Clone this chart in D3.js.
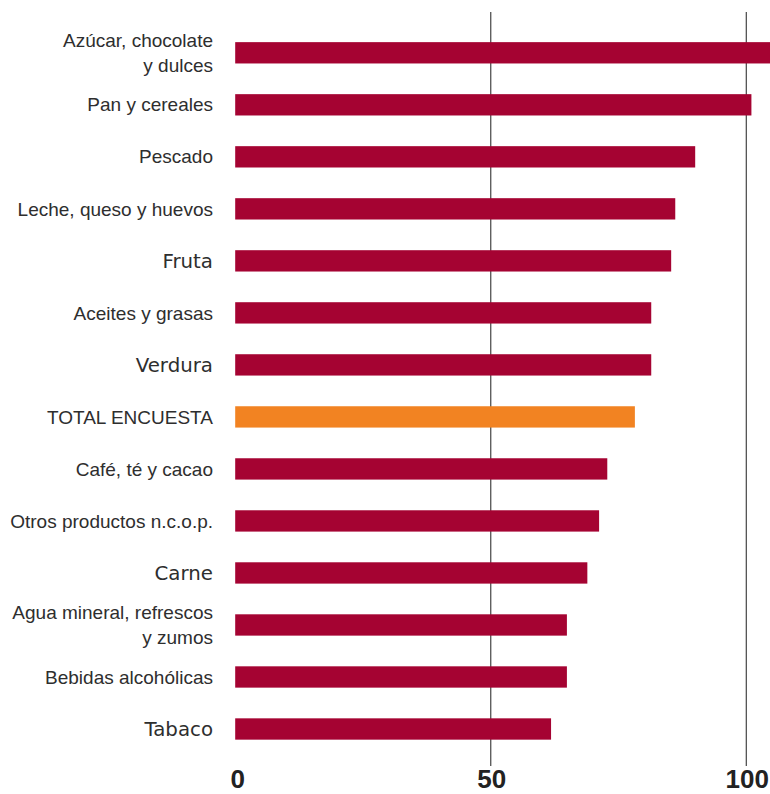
<!DOCTYPE html>
<html>
<head>
<meta charset="utf-8">
<script src="https://cdn.jsdelivr.net/npm/d3@7"></script>
<style>
  html, body { margin: 0; padding: 0; background: #fff; }
  svg { display: block; }
</style>
</head>
<body>
<svg id="chart"></svg>
<script>
let svgWidth = 770, svgHeight = 794

// data
const categories = [
  'Azúcar, chocolate|y dulces', 'Pan y cereales', 'Pescado', 'Leche, queso y huevos',
  'Fruta', 'Aceites y grasas', 'Verdura', 'TOTAL ENCUESTA', 'Café, té y cacao',
  'Otros productos n.c.o.p.', 'Carne', 'Agua mineral, refrescos|y zumos',
  'Bebidas alcohólicas', 'Tabaco'
]
const values = [105, 101, 90, 86.1, 85.3, 81.4, 81.4, 78.2, 72.8, 71.2, 68.9, 64.9, 64.9, 61.8]
const totalCategory = 'TOTAL ENCUESTA'
const wideLabels = ['Fruta', 'Verdura', 'Carne', 'Tabaco']
const tickValues = [0, 50, 100]
const gridValues = [50, 100]

let svg = d3.select('#chart').attr('width', svgWidth).attr('height', svgHeight)

let x = d3.scaleLinear().domain([0, 100]).range([235.2, 746.3])
let y = d3.scaleBand().domain(categories).range([26.8, 755]).paddingInner(0.59).paddingOuter(0.295)

// gridlines
svg.append('g').selectAll('line').data(gridValues).enter().append('line')
  .attr('x1', d => x(d)).attr('x2', d => x(d))
  .attr('y1', 12).attr('y2', 766)
  .attr('stroke', '#444').attr('stroke-width', 1.2)

// bars
svg.append('g').selectAll('rect').data(categories).enter().append('rect')
  .attr('x', x(0))
  .attr('y', d => y(d))
  .attr('height', y.bandwidth())
  .attr('width', (d, i) => x(values[i]) - x(0))
  .attr('fill', d => d === totalCategory ? '#f28322' : '#a50332')

// category labels
let labels = svg.append('g').selectAll('text').data(categories).enter().append('text')
  .attr('text-anchor', 'end')
  .attr('x', 213)
  .attr('y', d => y(d) + y.bandwidth() / 2)
  .attr('fill', '#2e2e2e')
  .style('font-family', d => wideLabels.includes(d) ? '"DejaVu Sans", sans-serif' : '"Liberation Sans", Arial, sans-serif')
  .style('font-size', d => wideLabels.includes(d) ? '19.8px' : '19px')

labels.each(function(d) {
  let lines = d.split('|')
  let t = d3.select(this)
  lines.forEach((line, k) => {
    t.append('tspan')
      .attr('x', 213)
      .attr('dy', k === 0 ? `${0.35 - (lines.length - 1) * 0.66}em` : '1.32em')
      .text(line)
  })
})

// x axis tick labels
svg.append('g').selectAll('text').data(tickValues).enter().append('text')
  .attr('text-anchor', 'middle')
  .attr('x', d => x(d) + (d === 0 ? 2.5 : 1))
  .attr('y', 788)
  .attr('fill', '#222')
  .style('font-family', '"Liberation Sans", Arial, sans-serif')
  .style('font-weight', 'bold')
  .style('font-size', '26px')
  .text(d => d)
</script>
</body>
</html>
